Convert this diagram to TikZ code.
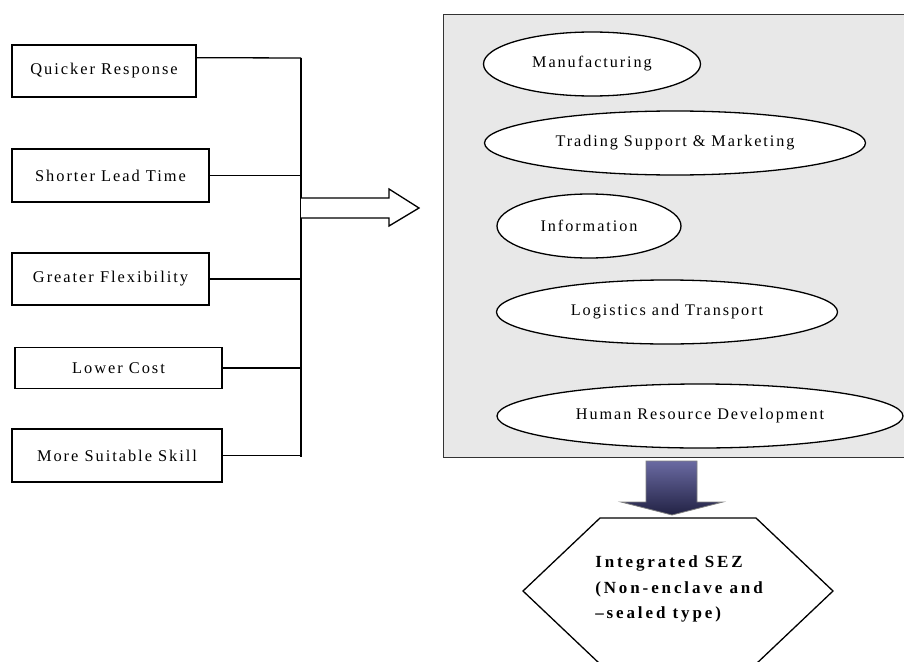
\documentclass[tikz,border=0pt]{standalone}
\usepackage{fontspec}
\setmainfont{Liberation Serif}
\newfontfamily\spaced[LetterSpace=12]{Liberation Serif}
\newfontfamily\sezfont[LetterSpace=17]{Liberation Serif}
\usetikzlibrary{shapes.geometric,calc}
\definecolor{panelgray}{HTML}{E8E8E8}
\definecolor{arrowtop}{HTML}{6A6AA2}
\definecolor{arrowbot}{HTML}{222244}
\tikzset{
	factor/.style={draw,rectangle,line width=1.3pt,inner sep=0pt,font=\spaced\fontsize{16.4}{19}\selectfont},
	activity/.style={draw,ellipse,fill=white,line width=1.3pt,inner sep=0pt,minimum height=64pt,font=\spaced\fontsize{16.2}{19}\selectfont},
	panel/.style={draw=black!80,fill=panelgray,line width=1.3pt},
	wire/.style={line width=1.3pt}
}
\begin{document}
\begin{tikzpicture}[x=1pt,y=-1pt]
		\useasboundingbox (0,0) rectangle (904,661);
		% advantages on the left
		\node[factor,minimum width=184pt,minimum height=52pt] (qr) at (104,71) {Quicker Response};
		\node[factor,minimum width=197pt,minimum height=53pt] (slt) at (110.5,175.5) {Shorter Lead Time};
		\node[factor,minimum width=197pt,minimum height=52pt] (gf) at (110.5,279) {Greater Flexibility};
		\node[factor,minimum width=207pt,minimum height=41pt] (lc) at (118.5,368) {Lower Cost};
		\node[factor,minimum width=210pt,minimum height=53pt] (mss) at (117,455.5) {More Suitable Skill};
		
		\coordinate (bustop) at (301,58);
		\coordinate (busbot) at (301,457);
		\draw[wire] (bustop) -- (busbot);
		\draw[wire] ($(qr.north east)!.25!(qr.south east)$) -- (bustop);
		\foreach \b in {slt,gf,lc,mss}{
			\draw[wire] (\b.east) -- (\b.east -| bustop);}
		
		% block arrow to the zone
		\draw[wire,fill=white] (301,198) -- (389,198) -- (389,189) -- (419,208) -- (389,226) -- (389,218) -- (301,218);
		
		% zone with activities
		\node[panel,minimum width=468pt,minimum height=443pt,anchor=north west] (zone) at (443,14) {};
		\node[activity,minimum width=217pt] (man) at (592,64) {Manufacturing};
		\node[activity,minimum width=381pt] (trd) at (675,143) {Trading Support \& Marketing};
		\node[activity,minimum width=184pt] (inf) at (589,226) {Information};
		\node[activity,minimum width=341pt] (log) at (667,312) {Logistics and Transport};
		\node[activity,minimum width=406pt] (hrd) at (700,416) {Human Resource Development};
		
		% down arrow and result
		\shade[top color=arrowtop,bottom color=arrowbot,draw=gray,line width=.8pt] (646,461) -- (697,461) -- (697,502) -- (723,502) -- (672,515) -- (621,502) -- (646,502) -- cycle;
		\draw[wire] (600,518) -- (756,518) -- (833,591) -- (756,664) -- (600,664) -- (523,591) -- cycle;
		\node[align=left,font=\sezfont\bfseries\fontsize{17}{25.5}\selectfont] (sez) at (679,589) {Integrated SEZ\\(Non-enclave and\\\textendash sealed type)};
		
	\end{tikzpicture}
\end{document}
